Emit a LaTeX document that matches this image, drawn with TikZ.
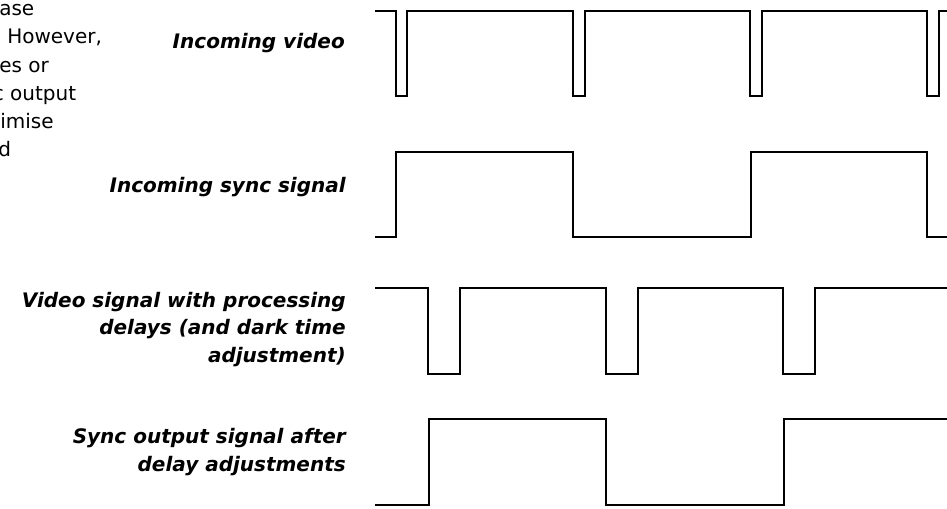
\documentclass[tikz,border=0pt]{standalone}
\usepackage{fontspec}
\setmainfont{DejaVu Sans}
\begin{document}
\begin{tikzpicture}[x=0.75pt,y=-0.75pt,
  wave/.style={line width=1.5pt,black,line join=miter},
  lbl/.style={anchor=base east,font=\fontsize{15}{20}\selectfont\bfseries\itshape,inner sep=0pt},
  body/.style={anchor=base west,font=\fontsize{15}{20}\selectfont,inner sep=0pt}]
\useasboundingbox (0,0) rectangle (947,508);
% cut-off paragraph at top left
\node[body] (p1) at (-1,15) {ase};
\node[body] (p2) at (7,43) {However,};
\node[body] (p3) at (-1,72) {es or};
\node[body] (p4) at (-7.4,100) {c output};
\node[body] (p5) at (0,128) {imise};
\node[body] (p6) at (-2,156) {d};
% labels
\node[lbl] (l1) at (345,48) {Incoming video};
\node[lbl] (l2) at (346,192) {Incoming sync signal};
\node[lbl] (l3a) at (346,307) {Video signal with processing};
\node[lbl] (l3b) at (346,334.5) {delays (and dark time};
\node[lbl] (l3c) at (346,362) {adjustment)};
\node[lbl] (l4a) at (346,443) {Sync output signal after};
\node[lbl] (l4b) at (346,471) {delay adjustments};
% incoming video
\draw[wave] (375,11) -- (396,11) -- (396,96) -- (407,96) -- (407,11)
  -- (573,11) -- (573,96) -- (585,96) -- (585,11)
  -- (750,11) -- (750,96) -- (762,96) -- (762,11)
  -- (927,11) -- (927,96) -- (939,96) -- (939,11) -- (950,11);
% incoming sync
\draw[wave] (375,237) -- (396,237) -- (396,152) -- (573,152) -- (573,237)
  -- (751,237) -- (751,152) -- (927,152) -- (927,237) -- (950,237);
% delayed video
\draw[wave] (375,288) -- (428,288) -- (428,374) -- (460,374) -- (460,288)
  -- (606,288) -- (606,374) -- (638,374) -- (638,288)
  -- (783,288) -- (783,374) -- (815,374) -- (815,288) -- (950,288);
% sync output
\draw[wave] (375,505) -- (429,505) -- (429,419) -- (606,419) -- (606,505)
  -- (784,505) -- (784,419) -- (950,419);
\end{tikzpicture}
\end{document}
